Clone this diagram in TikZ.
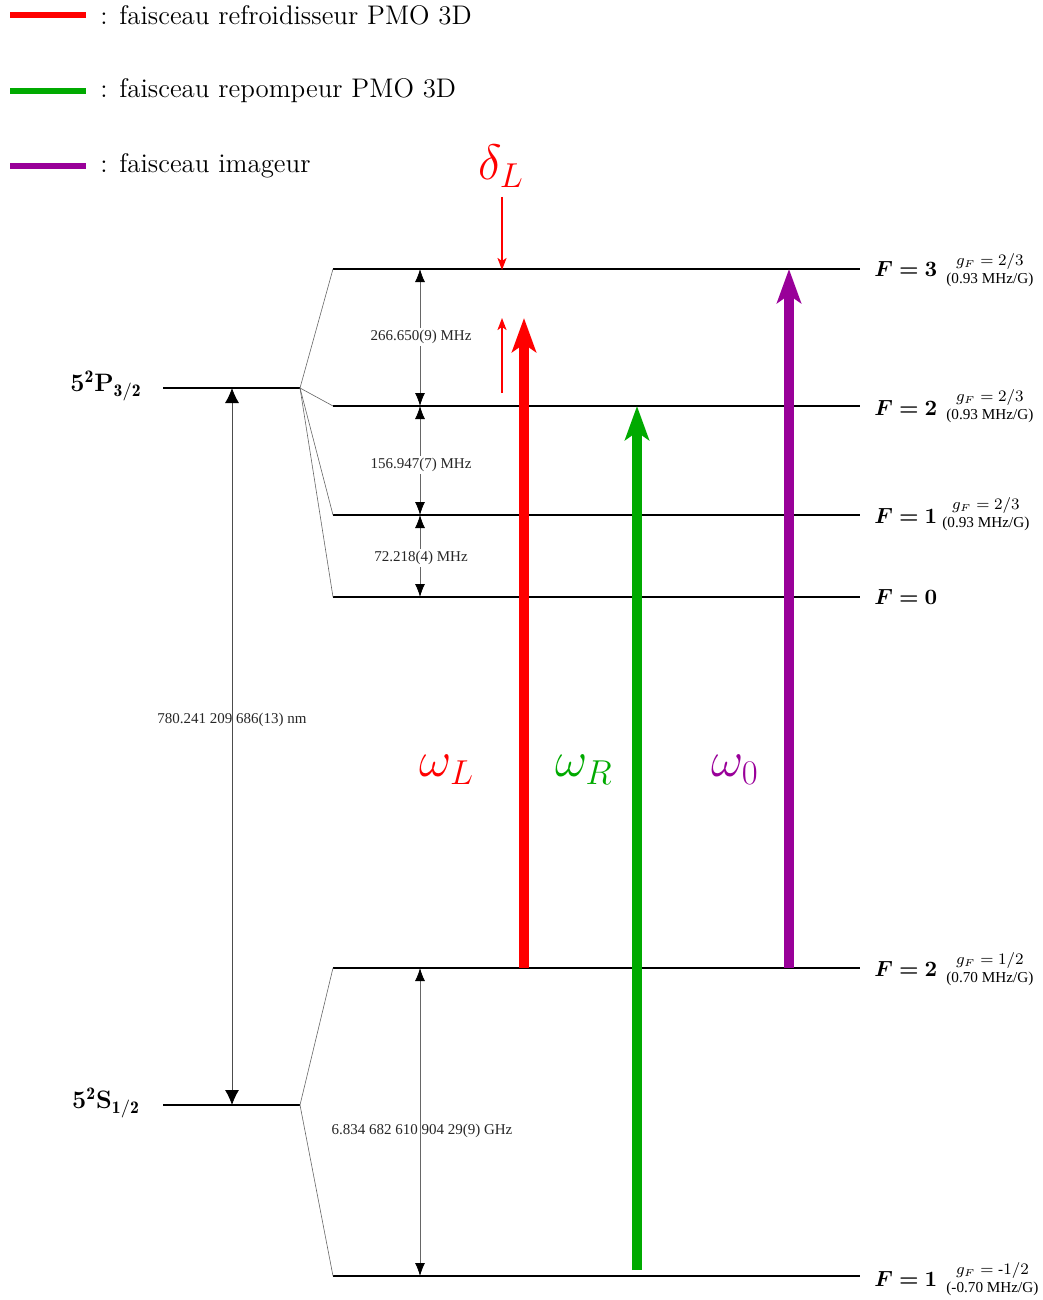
\documentclass[tikz,border=0pt]{standalone}
\usepackage{amsmath,bm}
\usepackage{fontspec}
\newfontfamily\smallserif{Liberation Serif}
\usetikzlibrary{arrows.meta}
\definecolor{coolc}{RGB}{255,0,0}
\definecolor{repumpc}{RGB}{0,170,0}
\definecolor{imagc}{RGB}{153,0,153}
\begin{document}
\begin{tikzpicture}[x=0.5pt,y=-0.5pt,
  level/.style={line width=1pt},
  splitline/.style={line width=0.3pt, draw=black!60},
  gaparrow/.style={draw=black!60, line width=0.4pt,
    {Latex[length=6.5pt,width=5pt,color=black]}-{Latex[length=6.5pt,width=5pt,color=black]}},
  bigarrow/.style={draw=black!70, line width=0.4pt,
    {Latex[length=7.5pt,width=7pt,color=black]}-{Latex[length=7.5pt,width=7pt,color=black]}},
  beam/.style={line width=5pt, -{Stealth[length=17pt,width=12pt,inset=4pt]}},
  legline/.style={line width=3pt},
  smallarrow/.style={line width=1pt, coolc, -{Stealth[length=6pt,width=4.5pt,inset=1.5pt]}},
  legtext/.style={anchor=west, inner sep=0pt, font=\fontsize{13.45}{16}\selectfont},
  gaplabel/.style={fill=white, inner sep=1pt, text=black!85, font=\smallserif\fontsize{7.5}{9}\selectfont},
  plainlabel/.style={inner sep=1pt, text=black!85, font=\smallserif\fontsize{7.5}{9}\selectfont},
  flabel/.style={anchor=west, inner sep=0pt, font=\fontsize{11}{13}\selectfont},
  gflabel/.style={anchor=west, inner sep=0pt, align=center, font=\smallserif\fontsize{7.6}{9}\selectfont},
  finelabel/.style={inner sep=0pt, font=\fontsize{12.6}{14}\selectfont\bfseries},
  greek/.style={inner sep=0pt, font=\fontsize{26.5}{30}\selectfont}
]
\useasboundingbox (0,0) rectangle (1043,1300);

% legend
\coordinate (l1a) at (10,15);  \coordinate (l1b) at (86,15);
\coordinate (l2a) at (10,91);  \coordinate (l2b) at (86,91);
\coordinate (l3a) at (10,166); \coordinate (l3b) at (86,166);
\draw[legline, coolc] (l1a) -- (l1b);
\draw[legline, repumpc] (l2a) -- (l2b);
\draw[legline, imagc] (l3a) -- (l3b);
\node[legtext] (t1) at (100,15) {: faisceau refroidisseur PMO 3D};
\node[legtext] (t2) at (100,91) {: faisceau repompeur PMO 3D};
\node[legtext] (t3) at (100,166) {: faisceau imageur};

% fine structure levels
\coordinate (Pl) at (163,388); \coordinate (Pr) at (300,388);
\coordinate (Sl) at (163,1105); \coordinate (Sr) at (300,1105);
\draw[level] (Pl) -- (Pr);
\draw[level] (Sl) -- (Sr);
\node[finelabel] (Plab) at (106,386) {5$^{\mathbf{2}}$P$_{\mathbf{3/2}}$};
\node[finelabel] (Slab) at (106,1103) {5$^{\mathbf{2}}$S$_{\mathbf{1/2}}$};

% hyperfine levels
\coordinate (e3l) at (333,269); \coordinate (e3r) at (860,269);
\coordinate (e2l) at (333,406); \coordinate (e2r) at (860,406);
\coordinate (e1l) at (333,515); \coordinate (e1r) at (860,515);
\coordinate (e0l) at (333,597); \coordinate (e0r) at (860,597);
\coordinate (g2l) at (333,968); \coordinate (g2r) at (860,968);
\coordinate (g1l) at (333,1276); \coordinate (g1r) at (860,1276);
\draw[level] (e3l) -- (e3r);
\draw[level] (e2l) -- (e2r);
\draw[level] (e1l) -- (e1r);
\draw[level] (e0l) -- (e0r);
\draw[level] (g2l) -- (g2r);
\draw[level] (g1l) -- (g1r);

\draw[splitline] (Pr) -- (e3l);
\draw[splitline] (Pr) -- (e2l);
\draw[splitline] (Pr) -- (e1l);
\draw[splitline] (Pr) -- (e0l);
\draw[splitline] (Sr) -- (g2l);
\draw[splitline] (Sr) -- (g1l);

% optical transition
\coordinate (opt1) at (232,388); \coordinate (opt2) at (232,1105);
\draw[bigarrow] (opt1) -- (opt2);
\node[plainlabel] (optlab) at (232,720) {780.241 209 686(13) nm};

% hyperfine gaps
\coordinate (h3) at (420,269); \coordinate (h2) at (420,406);
\coordinate (h1) at (420,515); \coordinate (h0) at (420,597);
\coordinate (k2) at (420,968); \coordinate (k1) at (420,1276);
\draw[gaparrow] (h3) -- (h2);
\draw[gaparrow] (h2) -- (h1);
\draw[gaparrow] (h1) -- (h0);
\draw[gaparrow] (k2) -- (k1);
\node[gaplabel] (lab32) at (421,337) {266.650(9) MHz};
\node[gaplabel] (lab21) at (421,465) {156.947(7) MHz};
\node[gaplabel] (lab10) at (421,558) {72.218(4) MHz};
\node[plainlabel] (labS) at (422,1131) {6.834 682 610 904 29(9) GHz};

% beams
\coordinate (rb) at (524,968); \coordinate (rtop) at (524,318);
\coordinate (gbot) at (637,1270); \coordinate (gtop) at (637,406);
\coordinate (pbot) at (789,968); \coordinate (ptop) at (789,269);
\draw[beam, coolc] (rb) -- (rtop);
\draw[beam, repumpc] (gbot) -- (gtop);
\draw[beam, imagc] (pbot) -- (ptop);

% detuning
\coordinate (d1) at (502,393); \coordinate (d2) at (502,318);
\coordinate (d3) at (502,197); \coordinate (d4) at (502,270);
\draw[smallarrow] (d1) -- (d2);
\draw[smallarrow] (d3) -- (d4);
\node[greek, coolc] (dL) at (501,166) {$\delta_L$};

\node[greek, coolc] (wL) at (447,770) {$\omega_L$};
\node[greek, repumpc] (wR) at (584,770) {$\omega_R$};
\node[greek, imagc] (wZ) at (735,770) {$\omega_0$};

% right labels
\node[flabel] (lvlA) at (874,269) {$\bm{F=3}$};
\node[flabel] (lvlB) at (874,408) {$\bm{F=2}$};
\node[flabel] (lvlC) at (874,516) {$\bm{F=1}$};
\node[flabel] (lvlD) at (874,597) {$\bm{F=0}$};
\node[flabel] (lvlE) at (874,969) {$\bm{F=2}$};
\node[flabel] (lvlF) at (874,1279) {$\bm{F=1}$};

\node[gflabel] (gfA) at (946,270) {$g_F=2/3$\\(0.93 MHz/G)};
\node[gflabel] (gfB) at (946,406) {$g_F=2/3$\\(0.93 MHz/G)};
\node[gflabel] (gfC) at (942,514) {$g_F=2/3$\\(0.93 MHz/G)};
\node[gflabel] (gfE) at (946,969) {$g_F=1/2$\\(0.70 MHz/G)};
\node[gflabel] (gfF) at (946,1279) {$g_F=\text{-}1/2$\\(-0.70 MHz/G)};
\end{tikzpicture}
\end{document}
